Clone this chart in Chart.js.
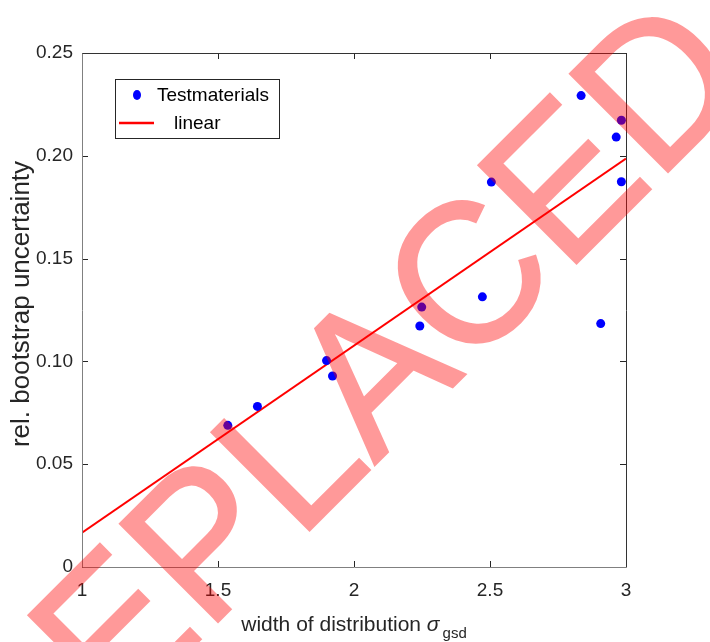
<!DOCTYPE html>
<html lang="en">
<head>
  <meta charset="UTF-8">
  <title>Bootstrap uncertainty</title>
  <script src="https://cdn.jsdelivr.net/npm/chart.js"></script>
  <style>
    body { margin: 0; background: #fff; }
    #wrap { width: 710px; height: 642px; }
  </style>
</head>
<body>
  <div id="wrap">
    <canvas id="graphic" width="710" height="642"></canvas>
  </div>

  <script>
    // data
    const sigmaGsd = [1.536, 1.645, 1.899, 1.921, 2.249, 2.242, 2.472, 2.505, 2.835, 2.907, 2.964, 2.983, 2.983];
    const relUncertainty = [0.0689, 0.0781, 0.1004, 0.0929, 0.1264, 0.1172, 0.1314, 0.1872, 0.2293, 0.1184, 0.2091, 0.2173, 0.1874];
    const fitX = [1, 3];
    const fitY = [0.0167, 0.1987];

    const xTickValues = [1, 1.5, 2, 2.5, 3];
    const xTickLabels = ['1', '1.5', '2', '2.5', '3'];
    const yTickValues = [0, 0.05, 0.10, 0.15, 0.20, 0.25];
    const yTickLabels = ['0', '0.05', '0.10', '0.15', '0.20', '0.25'];

    const FONT = '"Liberation Sans", Arial, sans-serif';
    const TEXT = '#262626';

    // box, inward ticks, legend, axis titles, watermark
    const decorations = {
      id: 'decorations',
      afterDraw(chart) {
        const ctx = chart.ctx;
        const { left, right, top, bottom } = chart.chartArea;
        const xs = chart.scales.x, ys = chart.scales.y;

        ctx.save();
        ctx.lineWidth = 1;
        // ticks
        ctx.strokeStyle = TEXT;
        ctx.beginPath();
        xTickValues.forEach(v => {
          const px = Math.round(xs.getPixelForValue(v)) + 0.5;
          ctx.moveTo(px, bottom); ctx.lineTo(px, bottom - 6);
          ctx.moveTo(px, top); ctx.lineTo(px, top + 6);
        });
        yTickValues.forEach(v => {
          const py = Math.round(ys.getPixelForValue(v)) + 0.5;
          ctx.moveTo(left, py); ctx.lineTo(left + 6, py);
          ctx.moveTo(right, py); ctx.lineTo(right - 6, py);
        });
        ctx.stroke();
        // frame
        ctx.strokeStyle = '#333';
        ctx.beginPath();
        ctx.moveTo(left + 0.5, top + 0.5); ctx.lineTo(right + 0.5, top + 0.5); ctx.lineTo(right + 0.5, bottom + 0.5);
        ctx.stroke();
        ctx.strokeStyle = '#808080';
        ctx.beginPath();
        ctx.moveTo(left + 0.5, top + 0.5); ctx.lineTo(left + 0.5, bottom + 0.5); ctx.lineTo(right + 0.5, bottom + 0.5);
        ctx.stroke();

        // legend
        const ds = chart.data.datasets;
        ctx.fillStyle = '#fff';
        ctx.fillRect(115, 79, 164, 59);
        ctx.strokeStyle = TEXT;
        ctx.strokeRect(115.5, 79.5, 164, 59);
        ctx.fillStyle = ds[0].backgroundColor;
        ctx.beginPath();
        ctx.ellipse(137, 95, 4, 5, 0, 0, Math.PI * 2);
        ctx.fill();
        ctx.strokeStyle = ds[1].borderColor;
        ctx.lineWidth = 2.5;
        ctx.beginPath();
        ctx.moveTo(119, 123); ctx.lineTo(154, 123);
        ctx.stroke();
        ctx.fillStyle = '#000';
        ctx.font = '19px ' + FONT;
        ctx.textBaseline = 'middle';
        ctx.textAlign = 'left';
        ctx.fillText(ds[0].label, 157, 96);
        ctx.fillText(ds[1].label, 174, 124);

        // y axis title
        ctx.save();
        ctx.translate(22, 304);
        ctx.rotate(-Math.PI / 2);
        ctx.textAlign = 'center';
        ctx.fillStyle = TEXT;
        ctx.font = '26px ' + FONT;
        ctx.fillText('rel. bootstrap uncertainty', 0, 0);
        ctx.restore();

        // x axis title with subscript
        const main = 'width of distribution ';
        ctx.fillStyle = TEXT;
        ctx.textBaseline = 'alphabetic';
        ctx.font = '21px ' + FONT;
        const w1 = ctx.measureText(main).width;
        ctx.font = 'italic 21px ' + FONT;
        const w2 = ctx.measureText('σ').width;
        ctx.font = '15px ' + FONT;
        const w3 = ctx.measureText('gsd').width;
        let x0 = (left + right) / 2 - (w1 + w2 + 3 + w3) / 2;
        ctx.font = '21px ' + FONT;
        ctx.fillText(main, x0, 631);
        ctx.font = 'italic 21px ' + FONT;
        ctx.fillText('σ', x0 + w1, 631);
        ctx.font = '15px ' + FONT;
        ctx.fillText('gsd', x0 + w1 + w2 + 3, 638);
        ctx.restore();

        // watermark: opaque on a scratch canvas, then laid over at 40 %
        const off = document.createElement('canvas');
        off.width = chart.width;
        off.height = chart.height;
        const o = off.getContext('2d');
        o.translate(386, 454);
        o.rotate(-Math.PI / 4);
        o.scale(1, 1.04);
        o.font = '194px ' + FONT;
        o.textAlign = 'center';
        o.fillStyle = '#ff0000';
        o.strokeStyle = '#ff0000';
        o.lineWidth = 2;
        o.fillText('REPLACED', 0, 0);
        o.strokeText('REPLACED', 0, 0);
        ctx.save();
        ctx.globalAlpha = 0.4;
        ctx.drawImage(off, 0, 0);
        ctx.restore();
      }
    };

    const lienzo = document.getElementById('graphic');
    const grafico = new Chart(lienzo, {
      type: 'scatter',
      data: {
        datasets: [
          {
            label: 'Testmaterials',
            data: sigmaGsd.map((x, i) => ({ x: x, y: relUncertainty[i] })),
            backgroundColor: '#0000ff',
            borderWidth: 0,
            pointRadius: 4.5,
            pointHoverRadius: 4.5
          },
          {
            label: 'linear',
            data: fitX.map((x, i) => ({ x: x, y: fitY[i] })),
            showLine: true,
            borderColor: '#ff0000',
            borderWidth: 2,
            pointRadius: 0,
            order: 1
          }
        ]
      },
      options: {
        responsive: false,
        animation: false,
        layout: { padding: { left: 0, top: 53, right: 84, bottom: 0 } },
        plugins: {
          legend: { display: false },
          tooltip: { enabled: false }
        },
        scales: {
          x: {
            type: 'linear',
            min: 1,
            max: 3,
            afterBuildTicks: s => { s.ticks = xTickValues.map(v => ({ value: v })); },
            afterFit: s => { s.height = 75; },
            ticks: {
              callback: (v, i) => xTickLabels[i],
              font: { family: FONT, size: 19 },
              color: TEXT,
              padding: 12,
              maxRotation: 0
            },
            grid: { display: false, drawTicks: false },
            border: { display: false }
          },
          y: {
            min: 0,
            max: 0.25,
            afterBuildTicks: s => { s.ticks = yTickValues.map(v => ({ value: v })); },
            afterFit: s => { s.width = 82; },
            ticks: {
              callback: (v, i) => yTickLabels[i],
              font: { family: FONT, size: 19 },
              color: TEXT,
              padding: 9
            },
            grid: { display: false, drawTicks: false },
            border: { display: false }
          }
        }
      },
      plugins: [decorations]
    });
  </script>
</body>
</html>
